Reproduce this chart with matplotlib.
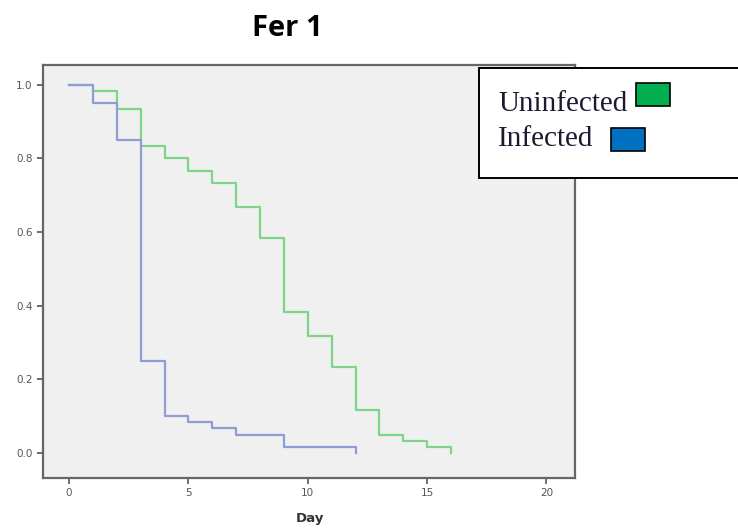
import matplotlib.pyplot as plt
from matplotlib.patches import Rectangle

# Survival curves (Kaplan-Meier style steps)
uninf_days = [0, 1, 2, 3, 4, 5, 6, 7, 8, 9, 10, 11, 12, 13, 14, 15, 16]
uninf_surv = [1.0, 0.983, 0.933, 0.833, 0.8, 0.767, 0.733, 0.667, 0.583,
              0.383, 0.317, 0.233, 0.117, 0.05, 0.033, 0.017, 0.0]
inf_days = [0, 1, 2, 3, 4, 5, 6, 7, 9, 12]
inf_surv = [1.0, 0.95, 0.85, 0.25, 0.10, 0.083, 0.067, 0.05, 0.017, 0.0]

x_ticks = [0, 5, 10, 15, 20]
y_ticks = [0.0, 0.2, 0.4, 0.6, 0.8, 1.0]
legend_labels = ['Uninfected', 'Infected']

fig = plt.figure(figsize=(7.38, 5.29), dpi=100)
ax = fig.add_axes([0.0583, 0.0964, 0.721, 0.781])
ax.set_facecolor('#f0f0f0')

ax.step(uninf_days, uninf_surv, where='post', color='#7ed58a', lw=1.6)
ax.step(inf_days, inf_surv, where='post', color='#8e9dd6', lw=1.6)

ax.set_xlim(-1.09, 21.2)
ax.set_ylim(-0.068, 1.054)
ax.set_xticks(x_ticks)
ax.set_yticks(y_ticks)
ax.set_yticklabels(['%.1f' % v for v in y_ticks])
ax.tick_params(direction='out', length=4, width=1.2, colors='#555555',
               labelsize=7.5, labelcolor='#555555')
for s in ax.spines.values():
    s.set_color('#666666')
    s.set_linewidth(1.6)

fig.text(0.39, 0.947, 'Fer 1', ha='center', va='center',
         fontsize=21, fontweight='bold', family='Open Sans')
fig.text(0.42, 0.019, 'Day', ha='center', va='center',
         fontsize=9.5, fontweight='bold', color='#333333')

# legend box drawn in figure pixels, like the pasted-in box of the original
W, H = 738., 529.
fig.patches.append(Rectangle((479 / W, 1 - 178 / H), 300 / W, 110 / H,
                             transform=fig.transFigure, facecolor='white',
                             edgecolor='black', lw=1.4, zorder=5))
fig.text(498 / W, 1 - 111 / H, legend_labels[0], fontsize=21,
         family='Liberation Serif', color='#1a1a33', zorder=6)
fig.text(498 / W, 1 - 146 / H, legend_labels[1], fontsize=21,
         family='Liberation Serif', color='#1a1a33', zorder=6)
fig.patches.append(Rectangle((636 / W, 1 - 106 / H), 34 / W, 23 / H,
                             transform=fig.transFigure, facecolor='#00b050',
                             edgecolor='black', lw=1.2, zorder=6))
fig.patches.append(Rectangle((611 / W, 1 - 151 / H), 34 / W, 23 / H,
                             transform=fig.transFigure, facecolor='#0070c0',
                             edgecolor='black', lw=1.2, zorder=6))

plt.savefig('out.png', dpi=100)
